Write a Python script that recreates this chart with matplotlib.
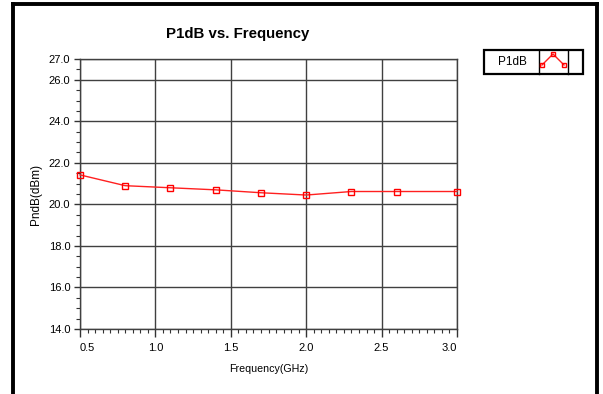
import matplotlib
matplotlib.use('Agg')
from matplotlib import pyplot as plt
from matplotlib.lines import Line2D
from matplotlib.patches import Rectangle
import numpy as np

plt.rcParams['font.family'] = ['Liberation Sans', 'DejaVu Sans']

# data
freq_ghz = [0.5, 0.8, 1.1, 1.4, 1.7, 2.0, 2.3, 2.6, 3.0]
p1db_dbm = [21.42, 20.9, 20.8, 20.7, 20.56, 20.45, 20.62, 20.62, 20.62]

y_major = [14.0, 16.0, 18.0, 20.0, 22.0, 24.0, 26.0, 27.0]
x_major = [0.5, 1.0, 1.5, 2.0, 2.5, 3.0]

W, H = 603, 394


def px(x, y):
    return x / W, 1 - y / H


fig = plt.figure(figsize=(W / 100, H / 100), dpi=100)
ax = fig.add_axes([80 / W, 1 - 329 / H, (457 - 80) / W, (329 - 59) / H])

ax.plot(freq_ghz, p1db_dbm, color='#ff2020', lw=1.0, marker='s', ms=4,
        mfc='none', mec='#ff0000', mew=1.0, clip_on=False, zorder=3)

ax.set_xlim(0.5, 3.0)
ax.set_ylim(14.0, 27.0)
ax.set_xticks(x_major)
ax.set_xticklabels([f'{v:.1f}' for v in x_major])
ax.set_yticks(y_major)
ax.set_yticklabels([f'{v:.1f}' for v in y_major])
ax.set_xticks(np.arange(0.5, 3.0001, 0.05), minor=True)
ax.set_yticks(np.arange(14.0, 27.0001, 0.5), minor=True)
ax.tick_params(axis='both', which='major', direction='out', length=4.5, width=1,
               labelsize=8, color='#333333', pad=2.5)
ax.tick_params(axis='x', which='major', length=6, pad=4)
ax.tick_params(axis='both', which='minor', direction='out', length=3, width=0.8,
               color='#333333')
xl = ax.get_xticklabels()
xl[0].set_ha('left')
xl[-1].set_ha('right')
ax.grid(True, which='major', color='#404040', lw=1.0)
for s in ax.spines.values():
    s.set_color('#404040')
    s.set_linewidth(1.0)

ax.set_xlabel('Frequency(GHz)', fontsize=7.7, labelpad=8)
ax.set_ylabel('PndB(dBm)', fontsize=8.5, labelpad=5)

fig.text(*px(238, 34), 'P1dB vs. Frequency', ha='center', va='center',
         fontsize=10.8, fontweight='bold')

# outer frame
fig.add_artist(Line2D(*zip(px(13, 4), px(13, 394)), color='black', lw=2.8))
fig.add_artist(Line2D(*zip(px(13, 4), px(597, 4)), color='black', lw=2.8))
fig.add_artist(Line2D(*zip(px(597, 4), px(597, 394)), color='black', lw=2.8))

# legend box
x0, y0 = px(484, 74)
x1, y1 = px(583, 50)
fig.add_artist(Rectangle((x0, y0), x1 - x0, y1 - y0, transform=fig.transFigure,
                         fill=False, ec='black', lw=1.6))
for xc in (539, 568):
    fig.add_artist(Line2D(*zip(px(xc, 50), px(xc, 74)), color='black', lw=1.0))
fig.text(*px(512, 62), 'P1dB', ha='center', va='center', fontsize=8.5)
icon_x = [542, 553, 564]
icon_y = [65, 54, 65]
ix, iy = zip(*[px(a, b) for a, b in zip(icon_x, icon_y)])
fig.add_artist(Line2D(ix, iy, color='#ff2020', lw=1.0, marker='s', ms=3,
                      mfc='none', mec='#ff0000', mew=1.0))

fig.savefig('out.png', dpi=100)
